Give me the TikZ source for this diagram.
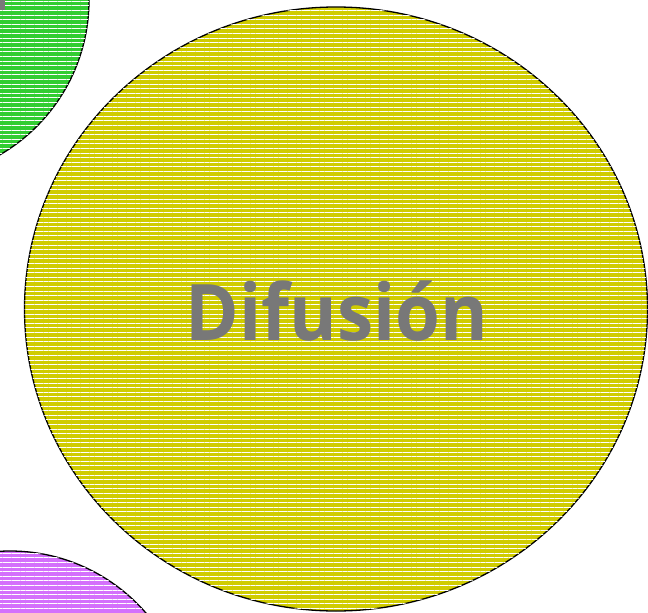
\documentclass[tikz,border=0pt]{standalone}
\usepackage{fontspec}
\setmainfont{Open Sans}
\usepackage{tikz}
\usetikzlibrary{patterns.meta}
\definecolor{lime}{RGB}{50,205,50}
\definecolor{mustard}{RGB}{208,204,0}
\definecolor{violet}{RGB}{212,112,252}
\definecolor{labelgray}{RGB}{120,120,120}
\tikzset{
  bubble/.style={draw=black, line width=1.3pt, fill=#1,
    postaction={pattern={Lines[angle=0, distance=4.6pt, line width=0.9pt]}, pattern color=white}},
}

\begin{document}
\begin{tikzpicture}[x=1pt, y=-1pt]
  \useasboundingbox (0,0) rectangle (648,613);
  \clip (0,0) rectangle (648,613);
  % outer bubbles, cut by the page
  \path[bubble=lime] (-90,0) circle[radius=179];
  \fill[labelgray] (0,0) rectangle (5,10);
  \path[bubble=violet] (10,731) circle[radius=180];
  % main bubble
  \path[bubble=mustard] (336,309) ellipse[x radius=311.5, y radius=302];
  \node[font=\fontsize{78}{90}\selectfont\bfseries, text=labelgray, anchor=base] (difusion) at (337,340) {\scalebox{0.93}[1]{Difusión}};
\end{tikzpicture}
\end{document}
